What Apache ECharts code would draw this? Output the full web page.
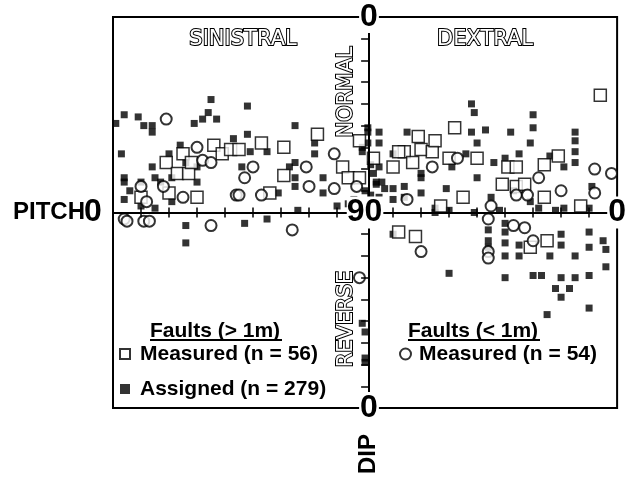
<!DOCTYPE html>
<html>
<head>
<meta charset="utf-8">
<script src="https://cdn.jsdelivr.net/npm/echarts@6/dist/echarts.min.js"></script>
<style>
  html, body { margin: 0; padding: 0; background: #fff; }
  #chart { width: 630px; height: 477px; }
</style>
</head>
<body>
<div id="chart"></div>
<script>
// x: 0-90 = sinistral pitch (0 at left), 90-180 = 180 - dextral pitch
// y: 180-90 = normal dip (0 at top), 90-0 = reverse dip (0 at bottom)
var assigned = [
  [1,131],[4,135],[9,134],[11,130],[14,130],[14,127],[29,131],[32,133],[34,136],[35,142],[37,133],
  [3,117],[4,106],[4,104],[6,100],[10,104],[14,111],[15,106],[17,104],[20,117],[21,106],[24,121],
  [26,113],[30,104],[30,111],[4,96],[10,93],[43,124],[21,95],[15,92],
  [26,84],[26,76],[47,85],[55,87],[80,93],[66,91],
  [48,139],[65,130],[48,126],[72,122],[72,117],[65,113],[63,111],[65,106],[65,102],[75,106],[75,99],
  [49,118],[55,118],[46,111],[59,99],[89,118],[84,94],[86,96],
  [91,127],[91,122],[95,111],[100,117],[105,127],[128,140],[129,136],[128,127],[130,122],[133,128],
  [110,106],[110,99],[119,101],[121,111],[126,117],[130,106],[100,101],[104,102],[100,96],[94,103],
  [129,90],[120,91],[110,108],[104,97],[115,90],[115,92],[92,112],[93,108],[96,104],[92,98],[97,101],
  [91,129],[95,127],[95,122],[89,120],[94,104],[90,100],[95,97],
  [150,135],[150,129],[142,127],[149,122],[145,117],[136,113],[140,115],[165,127],[165,123],[165,118],
  [165,113],[156,116],[161,111],[171,102],[135,97],[149,95],[161,92],[170,92],[143,100],[152,92],
  [138,91],[158,91],
  [100,80],[120,62],[134,82],[134,77],[134,74],[140,85],[140,81],[140,76],[140,70],[145,75],[145,70],
  [156,70],[160,80],[160,75],[165,70],[170,81],[170,74],[170,61],[175,77],[176,73],[176,65],[140,60],
  [150,61],[153,61],[160,60],[165,60],[158,55],[163,55],[160,51],[155,43],[170,46],
  [90,35],[90,23],[89,39],[90,21]
];
var measuredLarge = [
  [10,97],[19,113],[20,99],[23,108],[25,117],[27,108],[30,97],[36,121],[39,117],[42,119],[28,113],
  [53,122],[61,120],[73,126],[61,107],[82,111],[84,106],[88,106],[88,123],[56,99],[45,119],
  [93,115],[100,111],[104,118],[109,125],[110,119],[107,113],[114,118],[115,123],[120,115],[122,129],
  [125,97],[117,93],[130,115],[174,144],[141,111],[144,111],[139,103],[144,102],[147,103],[154,112],
  [159,116],[154,97],[167,93],[102,81],[108,79],[149,74],[155,77],[102,118]
];
var measuredSmall = [
  [19,133],[10,102],[12,95],[30,120],[32,114],[35,113],[18,102],[25,97],[44,98],[4,87],[5,86],[11,86],
  [13,86],[35,84],[64,82],[69,111],[70,102],[79,117],[79,101],[87,102],[53,98],[50,111],[47,106],[45,98],
  [114,111],[123,115],[105,96],[172,110],[178,108],[152,106],[160,100],[172,99],[144,98],[148,98],
  [135,93],[179,90],[134,87],[134,72],[134,69],[143,84],[147,83],[150,77],[110,72],[88,60]
];
var seriesNames = ['Measured (n = 56)', 'Assigned (n = 279)', 'Measured (n = 54)'];
var quadrantLabels = ['SINISTRAL', 'DEXTRAL', 'NORMAL', 'REVERSE'];
var legendTitles = ['Faults (> 1m)', 'Faults (< 1m)'];

function centred(list) {
  return list.map(function (p) { return [p[0] - 90, p[1] - 90]; });
}

var numFont = "'Liberation Sans Narrow', 'Liberation Sans', sans-serif";
var boldFont = "'Liberation Sans', Arial, sans-serif";
var outlineText = {
  fill: '#fff', stroke: '#000', lineWidth: 2,
  font: '21px "DejaVu Sans", sans-serif',
  align: 'center', verticalAlign: 'middle'
};

var chart = echarts.init(document.getElementById('chart'));

// the cross in the middle: each axis is pulled in from its edge by half the grid
function axisBase(pos, offset) {
  return {
    type: 'value', min: -90, max: 90, interval: 10, position: pos, offset: offset, z: 5,
    axisLine: { show: true, onZero: false, lineStyle: { color: '#000', width: 2 } },
    axisTick: { show: true, length: 5, lineStyle: { color: '#000', width: 1.5 } },
    splitLine: { show: false },
    axisLabel: { show: false }
  };
}

var numStyle = { fontFamily: numFont, fontWeight: 'bold', fontSize: 32, color: '#000' };

var x0 = axisBase('bottom', -195.5);
x0.name = 'PITCH';
x0.nameLocation = 'start';
x0.nameGap = 28;
x0.nameMoveOverlap = false;
x0.nameTextStyle = { fontFamily: boldFont, fontWeight: 'bold', fontSize: 24, color: '#000', verticalAlign: 'middle' };
x0.axisLabel = {
  show: true, margin: 0, verticalAlign: 'middle', align: 'center',
  showMinLabel: true, showMaxLabel: true,
  formatter: function (v) {
    if (v === -90) return '{l|0}';
    if (v === 0) return '{c|90}';
    if (v === 90) return '{r|0}';
    return '';
  },
  rich: {
    l: Object.assign({ padding: [0, 40, 0, 0] }, numStyle),
    c: Object.assign({ backgroundColor: '#fff', padding: [0, 1, 0, 0] }, numStyle),
    r: Object.assign({ backgroundColor: '#fff', padding: [0, 1] }, numStyle)
  }
};
var x1 = axisBase('top', -195.5);
x1.axisLine.show = false;
var x2 = { type: 'value', min: -90, max: 90, show: false };

var y0 = axisBase('left', -256);
y0.axisLabel = {
  show: true, margin: 0, verticalAlign: 'middle', align: 'center',
  showMinLabel: true, showMaxLabel: true,
  formatter: function (v) { return (v === 90 || v === -90) ? '{n|0}' : ''; },
  rich: {
    n: Object.assign({ backgroundColor: '#fff', padding: [0, 1] }, numStyle)
  }
};
var y1 = axisBase('right', -256);
y1.axisLine.show = false;
var y2 = { type: 'value', min: -90, max: 90, show: false };

chart.setOption({
  animation: false,
  backgroundColor: '#fff',
  grid: {
    left: 113, top: 17, width: 512, height: 391,
    show: true, borderColor: '#000', borderWidth: 2
  },
  xAxis: [x0, x1, x2],
  yAxis: [y0, y1, y2],
  legend: [
    {
      left: 119, top: 342, orient: 'vertical', padding: 0, itemGap: 11,
      itemWidth: 10, itemHeight: 10,
      data: [
        { name: seriesNames[0], icon: 'rect' },
        { name: seriesNames[1], icon: 'rect' }
      ],
      textStyle: { fontFamily: boldFont, fontWeight: 'bold', fontSize: 21, lineHeight: 24, color: '#000', padding: [0, 0, 0, 5] }
    },
    {
      left: 399, top: 342, orient: 'vertical', padding: 0,
      itemWidth: 11, itemHeight: 11,
      data: [{ name: seriesNames[2], icon: 'circle' }],
      textStyle: { fontFamily: boldFont, fontWeight: 'bold', fontSize: 21, lineHeight: 24, color: '#000', padding: [0, 0, 0, 3] }
    }
  ],
  graphic: [
    { type: 'text', style: Object.assign({ text: quadrantLabels[0], x: 243, y: 40 }, outlineText) },
    { type: 'text', style: Object.assign({ text: quadrantLabels[1], x: 485, y: 40 }, outlineText) },
    { type: 'text', x: 347, y: 92, rotation: Math.PI / 2, style: Object.assign({ text: quadrantLabels[2] }, outlineText) },
    { type: 'text', x: 347, y: 319, rotation: Math.PI / 2, style: Object.assign({ text: quadrantLabels[3] }, outlineText) },
    { type: 'text', x: 368, y: 454, rotation: Math.PI / 2,
      style: { text: 'DIP', font: 'bold 24px ' + boldFont, fill: '#000', align: 'center', verticalAlign: 'middle' } },
    { type: 'text', x: 150, y: 331,
      style: { text: legendTitles[0], font: 'bold 21px ' + boldFont, fill: '#000', align: 'left', verticalAlign: 'middle' } },
    { type: 'line', shape: { x1: 150, y1: 340, x2: 282, y2: 340 }, style: { stroke: '#000', lineWidth: 2 } },
    { type: 'text', x: 408, y: 331,
      style: { text: legendTitles[1], font: 'bold 21px ' + boldFont, fill: '#000', align: 'left', verticalAlign: 'middle' } },
    { type: 'line', shape: { x1: 408, y1: 340, x2: 540, y2: 340 }, style: { stroke: '#000', lineWidth: 2 } }
  ],
  series: [
    {
      name: seriesNames[1], type: 'scatter', symbol: 'rect', symbolSize: 7,
      xAxisIndex: 2, yAxisIndex: 2,
      itemStyle: { color: '#000' },
      data: centred(assigned)
    },
    {
      name: seriesNames[0], type: 'scatter', symbol: 'rect', symbolSize: 12,
      xAxisIndex: 2, yAxisIndex: 2,
      itemStyle: { color: '#fff', borderColor: '#000', borderWidth: 1.5 },
      data: centred(measuredLarge)
    },
    {
      name: seriesNames[2], type: 'scatter', symbol: 'circle', symbolSize: 11,
      xAxisIndex: 2, yAxisIndex: 2,
      itemStyle: { color: '#fff', borderColor: '#000', borderWidth: 2 },
      data: centred(measuredSmall)
    }
  ]
});
</script>
</body>
</html>
